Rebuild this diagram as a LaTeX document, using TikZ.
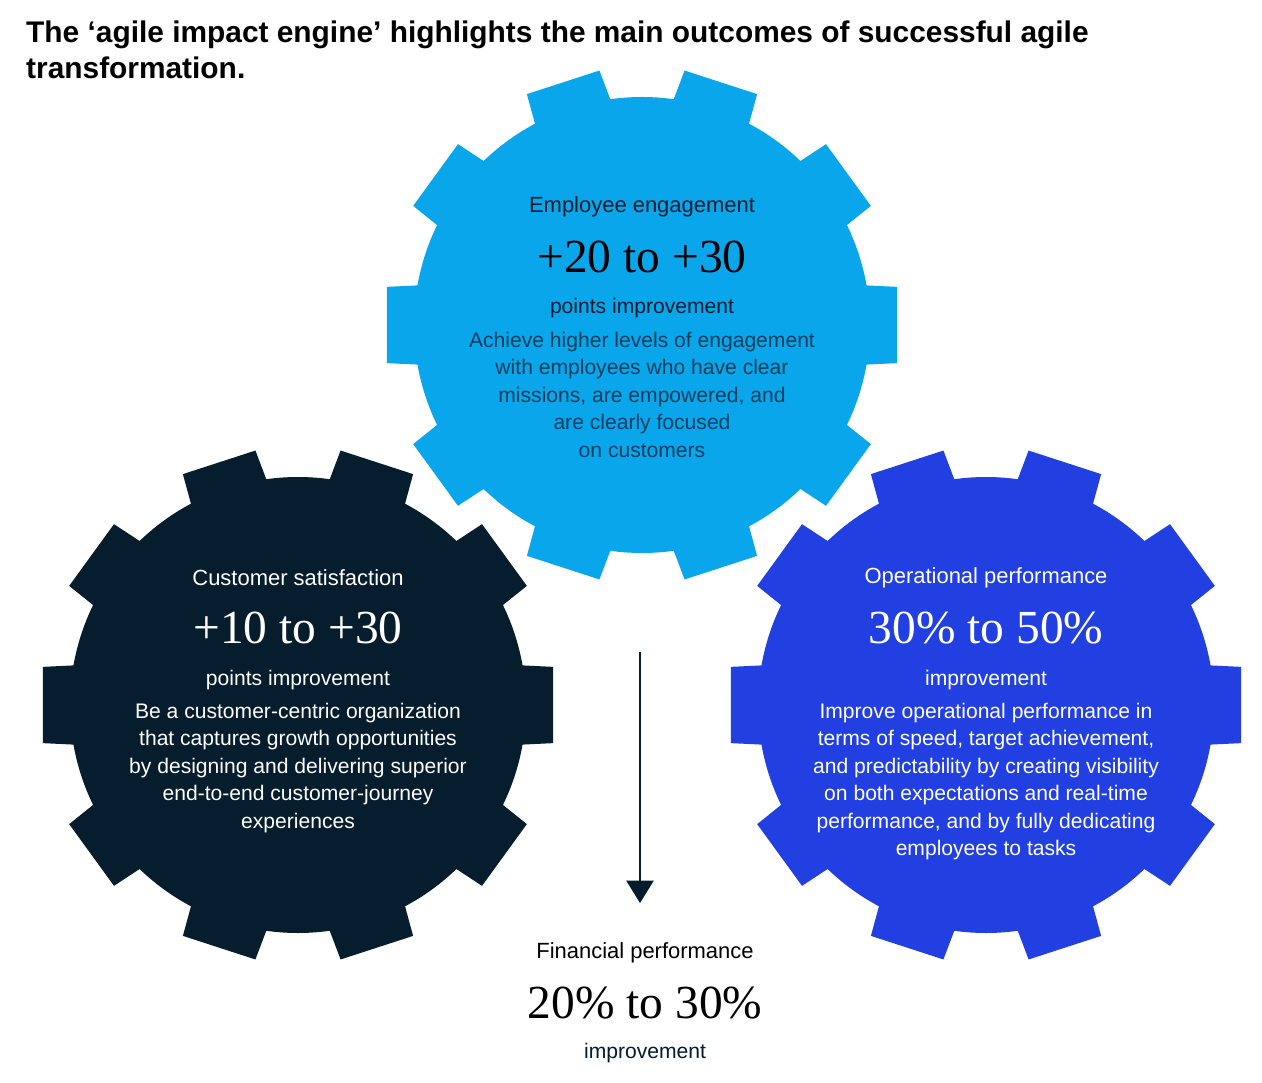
\documentclass[tikz,border=0pt]{standalone}
\usepackage{fontspec}
\setmainfont{Liberation Sans}
\newfontfamily\numfont{Liberation Serif}
\usetikzlibrary{arrows.meta, positioning, calc}
\definecolor{cEngage}{RGB}{10, 166, 236}
\definecolor{cCustomer}{RGB}{6, 29, 46}
\definecolor{cOperation}{RGB}{34, 64, 226}
\definecolor{cInk}{RGB}{5, 28, 44}
\tikzset{
    headText/.style={font=\fontsize{12.5pt}{15pt}\selectfont, align=center},
    bigNum/.style={font=\numfont\fontsize{27pt}{30pt}\selectfont, align=center},
    subText/.style={font=\fontsize{12pt}{15pt}\selectfont, align=center},
    bodyText/.style={font=\fontsize{12pt}{15.6pt}\selectfont, align=center},
    flowArrow/.style={-{Triangle[length=4.5mm, width=5.5mm]}, line width=0.8pt, draw=cInk}
}
% gear: centre, colour
\newcommand{\gearshape}[2]{%
    \fill[#2] ($(#1)+(-10:4.56)$)
        \foreach \a in {0,36,...,324} {
            -- ($(#1)+(\a-8.5:5.16)$) -- ($(#1)+(\a+8.5:5.16)$)
            -- ($(#1)+(\a+10:4.56)$) arc[start angle=\a+10, end angle=\a+26, radius=4.56]
        } -- cycle;%
}

\begin{document}
\begin{tikzpicture}

	% =========================================================
	% Frame and title
	% =========================================================

	\useasboundingbox [fill=white] (0,0) rectangle (25.24,21.64);

	\node [anchor=north west, align=left, text=black,
		font=\fontsize{17pt}{20.5pt}\selectfont\bfseries] (title) at (0.4,21.35)
		{The ‘agile impact engine’ highlights the main outcomes of successful agile\\transformation.};

	% =========================================================
	% Gears
	% =========================================================

	\coordinate (gEngage) at (12.84,15.14);
	\coordinate (gCustomer) at (5.96,7.54);
	\coordinate (gOperation) at (19.72,7.54);

	\gearshape{gEngage}{cEngage}
	\gearshape{gCustomer}{cCustomer}
	\gearshape{gOperation}{cOperation}

	% =========================================================
	% Employee engagement
	% =========================================================

	\node [headText, text=cInk] (engHead) at (12.84,17.50) {Employee engagement};
	\node [bigNum, text=black] (engNum) at (12.84,16.50) {+20 to +30};
	\node [subText, text=cInk] (engSub) at (12.84,15.48) {points improvement};
	\node [bodyText, text=cInk!75!cEngage, anchor=north] (engBody) at (12.84,15.12) {
		Achieve higher levels of engagement\\
		with employees who have clear\\
		missions, are empowered, and\\
		are clearly focused\\
		on customers
	};

	% =========================================================
	% Customer satisfaction
	% =========================================================

	\node [headText, text=white] (cusHead) at (5.96,10.08) {Customer satisfaction};
	\node [bigNum, text=white] (cusNum) at (5.96,9.08) {+10 to +30};
	\node [subText, text=white] (cusSub) at (5.96,8.04) {points improvement};
	\node [bodyText, text=white, anchor=north] (cusBody) at (5.96,7.70) {
		Be a customer-centric organization\\
		that captures growth opportunities\\
		by designing and delivering superior\\
		end-to-end customer-journey\\
		experiences
	};

	% =========================================================
	% Operational performance
	% =========================================================

	\node [headText, text=white] (opsHead) at (19.72,10.08) {Operational performance};
	\node [bigNum, text=white] (opsNum) at (19.72,9.08) {30\% to 50\%};
	\node [subText, text=white] (opsSub) at (19.72,8.04) {improvement};
	\node [bodyText, text=white, anchor=north] (opsBody) at (19.72,7.70) {
		Improve operational performance in\\
		terms of speed, target achievement,\\
		and predictability by creating visibility\\
		on both expectations and real-time\\
		performance, and by fully dedicating\\
		employees to tasks
	};

	% =========================================================
	% Financial performance
	% =========================================================

	\coordinate (arrStart) at (12.80,8.60);
	\node [headText, text=black] (finHead) at (12.90,2.58) {Financial performance};
	\node [bigNum, text=black] (finNum) at (12.90,1.58) {20\% to 30\%};
	\node [subText, text=cInk] (finSub) at (12.90,0.58) {improvement};

	\draw [flowArrow] (arrStart) -- ++(0,-5.02) coordinate (arrEnd);

\end{tikzpicture}
\end{document}
